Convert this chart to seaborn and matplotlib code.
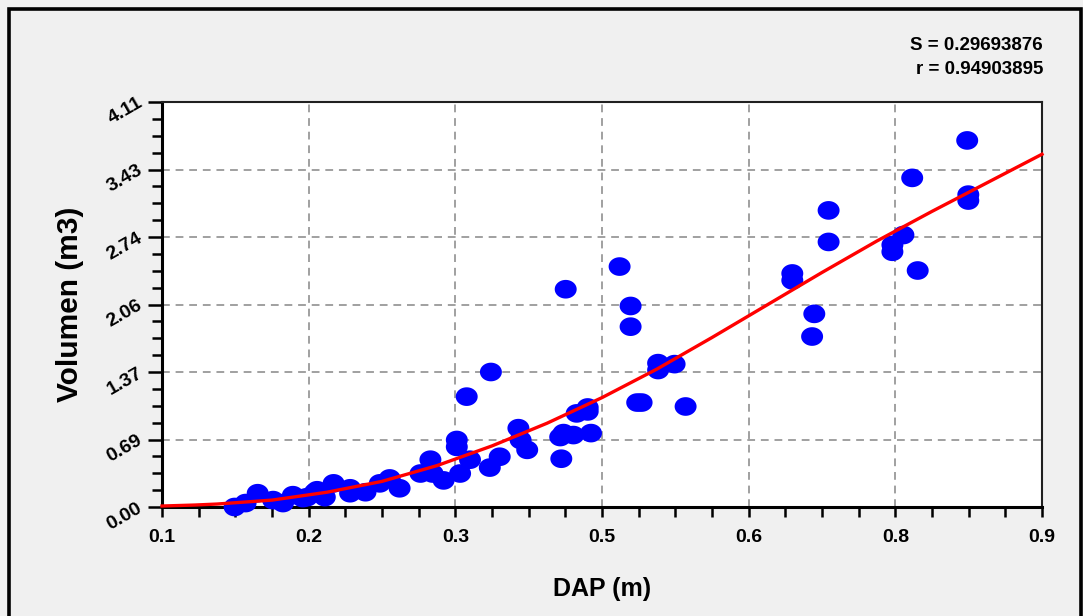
import numpy as np
import pandas as pd
import matplotlib
matplotlib.use('Agg')
import matplotlib.pyplot as plt
from matplotlib.path import Path
from matplotlib.patches import Rectangle
from matplotlib.ticker import AutoMinorLocator, FixedLocator
import seaborn as sns

dap = [0.166, 0.176, 0.187, 0.201, 0.210, 0.219, 0.228, 0.232, 0.239, 0.241,
       0.248, 0.256, 0.271, 0.271, 0.285, 0.298, 0.307, 0.316, 0.335, 0.344,
       0.346, 0.356, 0.368, 0.368, 0.371, 0.377, 0.380, 0.399, 0.398, 0.407,
       0.424, 0.426, 0.432, 0.462, 0.463, 0.465, 0.467, 0.474, 0.477, 0.487,
       0.487, 0.490, 0.516, 0.526, 0.526, 0.532, 0.536, 0.551, 0.551, 0.566,
       0.576, 0.673, 0.673, 0.691, 0.693, 0.706, 0.706, 0.764, 0.764, 0.774,
       0.782, 0.787, 0.832, 0.833, 0.833]
volumen = [0.00, 0.04, 0.14, 0.07, 0.04, 0.12, 0.09, 0.10, 0.15, 0.17,
           0.10, 0.24, 0.14, 0.19, 0.15, 0.24, 0.29, 0.19, 0.34, 0.48,
           0.34, 0.27, 0.68, 0.61, 0.34, 1.12, 0.48, 1.37, 0.40, 0.51,
           0.80, 0.68, 0.58, 0.71, 0.49, 0.75, 2.21, 0.73, 0.95, 1.01,
           0.97, 0.75, 2.44, 2.04, 1.83, 1.06, 1.06, 1.46, 1.39, 1.45,
           1.02, 2.37, 2.30, 1.73, 1.96, 3.01, 2.69, 2.66, 2.59, 2.76,
           3.34, 2.40, 3.72, 3.17, 3.11]

# Fitted model curve
curve_dap = [0.10, 0.13, 0.15, 0.20, 0.25, 0.30, 0.35, 0.40, 0.45, 0.50,
             0.55, 0.60, 0.65, 0.70, 0.75, 0.80, 0.85, 0.90]
curve_vol = [0.01, 0.02, 0.03, 0.07, 0.15, 0.26, 0.42, 0.62, 0.85, 1.11,
             1.40, 1.72, 2.05, 2.38, 2.70, 3.00, 3.29, 3.58]

# Axis labels as printed by the original software
x_tick_labels = ['0.1', '0.2', '0.3', '0.5', '0.6', '0.8', '0.9']
y_tick_labels = ['0.00', '0.69', '1.37', '2.06', '2.74', '3.43', '4.11']
stats_lines = ['S = 0.29693876', 'r = 0.94903895']

df = pd.DataFrame({'DAP': dap, 'Volumen': volumen})
df_curve = pd.DataFrame({'DAP': curve_dap, 'Volumen': curve_vol})

plt.rcParams['font.family'] = ['Liberation Sans', 'DejaVu Sans']
plt.rcParams['font.weight'] = 'bold'

fig = plt.figure(figsize=(10.83, 6.16), dpi=100, facecolor='#f0f0f0')
ax = fig.add_axes([162 / 1083, 1 - 507 / 616, (1042 - 162) / 1083, (507 - 102) / 616])
ax.set_facecolor('white')

# Slightly flattened dot marker
t = np.linspace(0, 2 * np.pi, 60)
ellipse = Path(np.column_stack([np.cos(t), 0.85 * np.sin(t)]), closed=True)

sns.scatterplot(data=df, x='DAP', y='Volumen', ax=ax, marker=ellipse, s=250,
                color='#0000ff', edgecolor='none', zorder=3, clip_on=False)
sns.lineplot(data=df_curve, x='DAP', y='Volumen', ax=ax, color='#ff0000',
             linewidth=2.4, estimator=None, zorder=4, clip_on=False)

ax.set_xlim(0.1, 0.9)
ax.set_ylim(0, 4.11)

x_major = np.linspace(0.1, 0.9, len(x_tick_labels))
y_major = np.linspace(0, 4.11, len(y_tick_labels))
ax.xaxis.set_major_locator(FixedLocator(x_major))
ax.yaxis.set_major_locator(FixedLocator(y_major))
ax.set_xticklabels(x_tick_labels)
ax.set_yticklabels(y_tick_labels, rotation=30, ha='right', va='center',
                   rotation_mode='anchor')
ax.xaxis.set_minor_locator(AutoMinorLocator(4))
ax.yaxis.set_minor_locator(AutoMinorLocator(4))

ax.tick_params(axis='both', which='major', direction='out', length=10, width=1.8,
               color='black', labelsize=14)
ax.tick_params(axis='both', which='minor', direction='out', length=7, width=1.8,
               color='black')
ax.tick_params(axis='x', which='major', pad=9, length=7)
ax.tick_params(axis='y', which='major', pad=5)

ax.grid(True, which='major', color='#a0a0a0', linestyle=(0, (4, 3)), linewidth=1.4)
ax.set_axisbelow(True)

for side in ['left', 'bottom']:
    ax.spines[side].set_linewidth(2.2)
    ax.spines[side].set_color('black')
for side in ['top', 'right']:
    ax.spines[side].set_linewidth(1.5)
    ax.spines[side].set_color('#202020')

ax.set_xlabel('DAP (m)', fontsize=18, fontweight='bold', labelpad=22)
ax.set_ylabel('Volumen (m3)', fontsize=21.5, fontweight='bold', labelpad=14)

# Fit statistics in the top right corner
fig.text(1043 / 1083, 1 - 45 / 616, stats_lines[0], ha='right', va='center',
         fontsize=13.5, fontweight='bold')
fig.text(1043 / 1083, 1 - 70 / 616, stats_lines[1], ha='right', va='center',
         fontsize=13.5, fontweight='bold')

# Outer frame of the chart window
fig.patches.append(Rectangle((9 / 1083, -0.05), (1081 - 9) / 1083, 1.05 - 9 / 616,
                             transform=fig.transFigure, fill=False,
                             edgecolor='black', linewidth=2.6, zorder=10))

fig.savefig('out.png', dpi=100, facecolor=fig.get_facecolor())
